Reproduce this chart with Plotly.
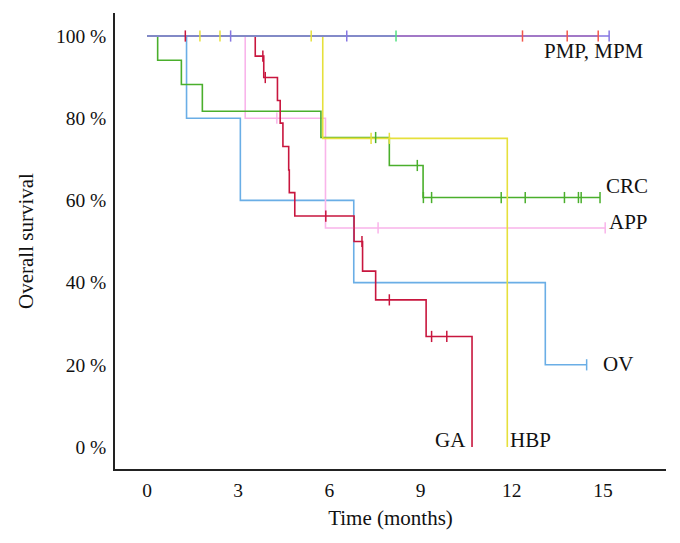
import plotly.graph_objects as go

# ---- data (months, survival %) ----
GA_t = [0, 3.56, 3.84, 4.29, 4.38, 4.47, 4.66, 4.68, 4.86, 6.81, 7.09, 7.52, 9.18, 10.69]
GA_s = [100, 95.1, 89.9, 84.3, 78.8, 73.1, 67.4, 61.9, 56.2, 50.0, 42.8, 35.8, 26.9, 0]
GA_c = [1.26, 3.81, 3.89, 5.88, 7.07, 7.97, 9.36, 9.86]

HBP_t = [0, 5.78, 11.85]
HBP_s = [100, 75.1, 0]
HBP_c = [1.74, 2.40, 5.40, 7.37, 7.97]

CRC_t = [0, 0.35, 1.13, 1.82, 5.72, 7.97, 9.08, 14.90]
CRC_s = [100, 94.1, 88.2, 81.7, 75.3, 68.5, 60.7, 60.7]
CRC_c = [7.52, 8.89, 9.09, 9.36, 11.65, 12.44, 13.73, 14.19, 14.28, 14.90]

APP_t = [0, 3.23, 5.87, 15.07]
APP_s = [100, 80.0, 53.3, 53.3]
APP_c = [4.27, 7.60, 15.07]

OV_t = [0, 1.30, 3.07, 6.80, 13.10, 14.46]
OV_s = [100, 80.0, 60.0, 40.0, 20.0, 20.0]
OV_c = [14.46]

PMP_t = [0, 14.84]
PMP_s = [100, 100]
PMP_c = [12.35, 13.82, 14.84]

OTH_t = [0, 8.19]
OTH_s = [100, 100]
OTH_c = [8.19]

MPM_t = [0, 15.20]
MPM_s = [100, 100]
MPM_c = [2.75, 6.57, 15.20]

x_ticks = [0, 3, 6, 9, 12, 15]
y_ticks = [0, 20, 40, 60, 80, 100]
y_ticktext = ["0 %", "20 %", "40 %", "60 %", "80 %", "100 %"]

labels = [
    ("PMP, MPM", 14.7, 96.4),
    ("CRC", 15.8, 63.6),
    ("APP", 15.85, 54.8),
    ("OV", 15.5, 20.3),
    ("GA", 9.97, 1.7),
    ("HBP", 12.62, 1.7),
]

groups = [
    ("OV", OV_t, OV_s, OV_c, "#6aaee6"),
    ("APP", APP_t, APP_s, APP_c, "#f9b4ea"),
    ("CRC", CRC_t, CRC_s, CRC_c, "#4aaf2c"),
    ("GA", GA_t, GA_s, GA_c, "#c8163e"),
    ("HBP", HBP_t, HBP_s, HBP_c, "#e6e03c"),
    ("PMP", PMP_t, PMP_s, PMP_c, "#f2564c"),
    ("OTH", OTH_t, OTH_s, OTH_c, "#52e082"),
    ("MPM", MPM_t, MPM_s, MPM_c, "#8676e2"),
]


def surv_at(t, ts, ss):
    val = ss[0]
    for ti, si in zip(ts, ss):
        if ti <= t:
            val = si
    return val


fig = go.Figure()
for name, ts, ss, cs, col in groups:
    fig.add_trace(go.Scatter(x=ts, y=ss, mode="lines", line=dict(color=col, width=1.6, shape="hv"),
                             showlegend=False, hoverinfo="skip"))
for name, ts, ss, cs, col in groups:
    fig.add_trace(go.Scatter(x=cs, y=[surv_at(c, ts, ss) for c in cs], mode="markers",
                             marker=dict(symbol="line-ns", size=8, line=dict(color=col, width=1.5)),
                             showlegend=False, hoverinfo="skip"))

for txt, x, y in labels:
    fig.add_annotation(x=x, y=y, text=txt, showarrow=False, xref="x", yref="y",
                       font=dict(family="Liberation Serif", size=21, color="#111111"))

fig.update_layout(
    width=680, height=543,
    margin=dict(l=115, r=14, t=13, b=74, autoexpand=False),
    paper_bgcolor="white", plot_bgcolor="white",
    font=dict(family="Liberation Serif", size=19.5, color="#111111"),
    xaxis=dict(range=[-1.053, 17.07], tickvals=x_ticks, showgrid=False, zeroline=False,
               showline=True, linecolor="#222222", linewidth=1.5, ticks="", ticklabelstandoff=3,
               automargin=False,
               title=dict(text="Time (months)", font=dict(size=21), standoff=10)),
    yaxis=dict(range=[-5.35, 105.6], tickvals=y_ticks, ticktext=y_ticktext, showgrid=False,
               zeroline=False, showline=True, linecolor="#222222", linewidth=1.5, ticks="",
               ticklabelstandoff=3, automargin=False,
               title=dict(text="Overall survival", font=dict(size=21), standoff=17)),
)

fig.write_html("out.html", config={"displayModeBar": False},
               post_script="document.body.style.margin='0';")
